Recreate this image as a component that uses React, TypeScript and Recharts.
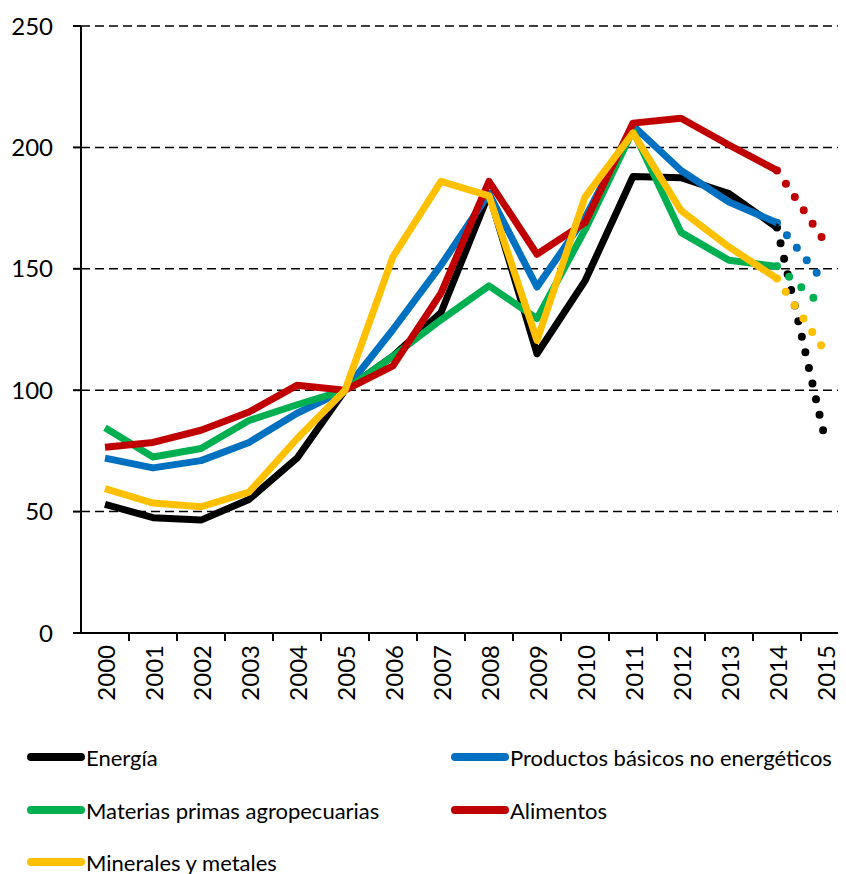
import React from "react";
import { LineChart, Line, CartesianGrid, XAxis, YAxis, Legend } from "recharts";

// años (2015 = proyección)
const years = [2000, 2001, 2002, 2003, 2004, 2005, 2006, 2007, 2008, 2009, 2010, 2011, 2012, 2013, 2014, 2015];

const energia = [53, 47.5, 46.5, 55, 72, 100, 114, 132, 181, 115, 145, 188, 187.5, 181, 167, null];
const noEnergeticos = [72, 68, 71, 78.5, 90.5, 100, 125, 151.5, 181, 142.5, 171, 209, 190.5, 177.5, 169, null];
const agropecuarias = [84.5, 72.5, 76, 87.5, 94, 100, 114, 129, 143, 129.5, 166, 207, 165, 153.5, 151, null];
const alimentos = [76.5, 78.5, 83.5, 91, 102, 100, 110, 140, 186, 156, 169, 210, 212, 201, 190.5, null];
const minerales = [59.5, 53.5, 52, 58, 80, 100, 155, 186, 180, 120.5, 179.5, 206, 174, 159, 146, null];

// proyección 2014 -> 2015 (línea punteada)
const energiaProj = [167, 80];
const noEnergeticosProj = [169, 144];
const agropecuariasProj = [151, 134];
const alimentosProj = [190.5, 161];
const mineralesProj = [146, 116];

const yTicks = [0, 50, 100, 150, 200, 250];
const xTicks = [
  2000, 2000.5, 2001, 2001.5, 2002, 2002.5, 2003, 2003.5, 2004, 2004.5, 2005, 2005.5,
  2006, 2006.5, 2007, 2007.5, 2008, 2008.5, 2009, 2009.5, 2010, 2010.5, 2011, 2011.5,
  2012, 2012.5, 2013, 2013.5, 2014, 2014.5, 2015, 2015.5,
];

const series = [
  { key: "energia", proj: "energiaProj", name: "Energía", color: "#000000", vals: energia, p: energiaProj },
  { key: "noEnergeticos", proj: "noEnergeticosProj", name: "Productos básicos no energéticos", color: "#0070C0", vals: noEnergeticos, p: noEnergeticosProj },
  { key: "agropecuarias", proj: "agropecuariasProj", name: "Materias primas agropecuarias", color: "#00B050", vals: agropecuarias, p: agropecuariasProj },
  { key: "alimentos", proj: "alimentosProj", name: "Alimentos", color: "#C00000", vals: alimentos, p: alimentosProj },
  { key: "minerales", proj: "mineralesProj", name: "Minerales y metales", color: "#FFC000", vals: minerales, p: mineralesProj },
];

const data = years.map((year, i) => {
  const row: any = { year };
  series.forEach((s) => {
    row[s.key] = s.vals[i];
    row[s.proj] = i >= years.length - 2 ? s.p[i - (years.length - 2)] : null;
  });
  return row;
});

const FONT = "Lato, 'Noto Sans', sans-serif";

const YearTick = (props: any) => {
  const { x, y, payload } = props;
  const v = payload.value;
  if (!Number.isInteger(v)) {
    return <line x1={x} x2={x} y1={y} y2={y + 8} stroke="#000" strokeWidth={2} />;
  }
  const ty = y + 12;
  return (
    <text
      x={x}
      y={ty}
      transform={`rotate(-90, ${x}, ${ty})`}
      textAnchor="end"
      dominantBaseline="central"
      fontSize={24}
      fontFamily={FONT}
      fill="#000"
    >
      {v}
    </text>
  );
};

const LegendBox = () => {
  const rows = [34, 87, 139];
  return (
    <div style={{ position: "relative", width: 838, height: 151, fontFamily: FONT }}>
      {series.map((s, i) => (
        <div
          key={s.key}
          style={{
            position: "absolute",
            left: i % 2 === 0 ? 19 : 443,
            top: rows[Math.floor(i / 2)] - 14,
            height: 28,
            display: "flex",
            alignItems: "center",
            whiteSpace: "nowrap",
          }}
        >
          <span
            style={{
              display: "inline-block",
              width: 58,
              height: 8,
              borderRadius: 4,
              background: s.color,
              marginRight: 1,
            }}
          />
          <span style={{ fontSize: 22, color: "#000" }}>{s.name}</span>
        </div>
      ))}
    </div>
  );
};

export default function App() {
  return (
    <div style={{ width: 838, height: 866, overflow: "hidden" }}>
      <LineChart width={845} height={866} data={data} margin={{ top: 18, right: 4, left: 0, bottom: 0 }}>
        <CartesianGrid vertical={false} stroke="#000" strokeDasharray="9 5" strokeWidth={1.5} />
        <XAxis
          dataKey="year"
          type="number"
          domain={[1999.5, 2015.5]}
          ticks={xTicks}
          interval={0}
          tick={<YearTick />}
          tickLine={false}
          tickSize={0}
          tickMargin={0}
          axisLine={{ stroke: "#000", strokeWidth: 2 }}
          height={90}
          allowDataOverflow
        />
        <YAxis
          type="number"
          domain={[0, 250]}
          ticks={yTicks}
          width={73}
          tickSize={8}
          tickMargin={20}
          axisLine={{ stroke: "#000", strokeWidth: 2 }}
          tickLine={{ stroke: "#000", strokeWidth: 2 }}
          tick={{ fill: "#000", fontSize: 24, fontFamily: FONT }}
        />
        <Legend verticalAlign="bottom" height={151} content={() => <LegendBox />} wrapperStyle={{ left: 0, width: 838 }} />
        {series.map((s) => (
          <Line
            key={s.proj}
            dataKey={s.proj}
            stroke={s.color}
            strokeWidth={8}
            strokeDasharray="0 16"
            strokeLinecap="round"
            dot={false}
            legendType="none"
            isAnimationActive={false}
          />
        ))}
        {series.map((s) => (
          <Line
            key={s.key}
            type="linear"
            dataKey={s.key}
            name={s.name}
            stroke={s.color}
            strokeWidth={7}
            strokeLinejoin="round"
            dot={false}
            isAnimationActive={false}
          />
        ))}
      </LineChart>
    </div>
  );
}
